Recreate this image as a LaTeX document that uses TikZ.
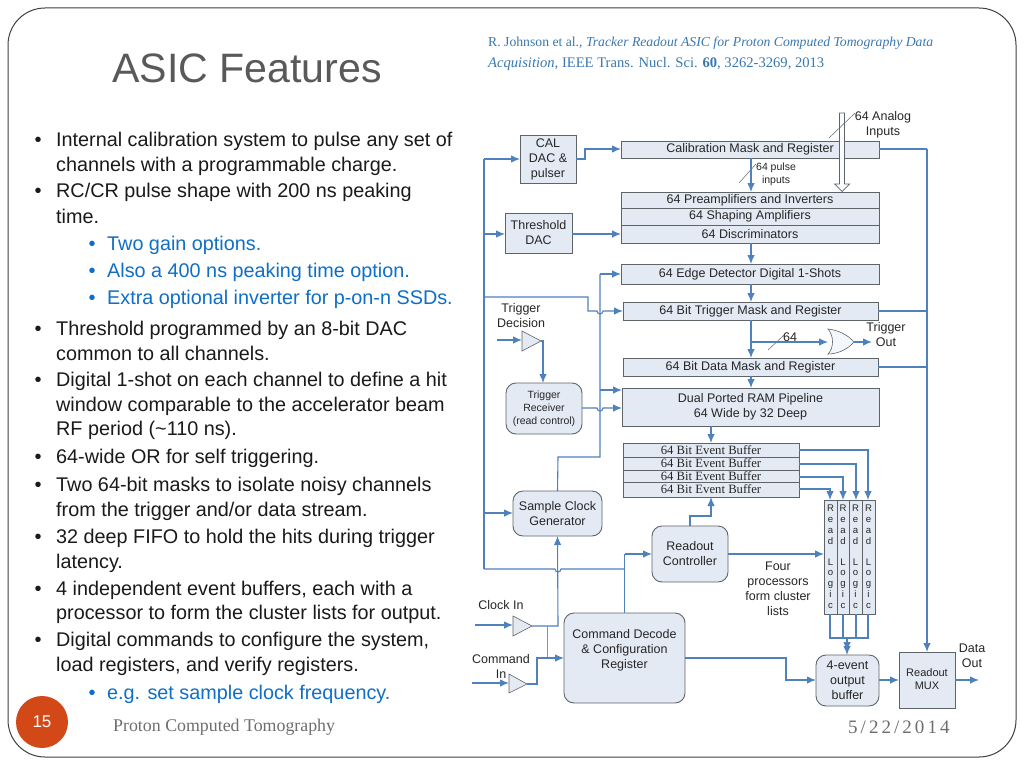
\documentclass[tikz,border=0pt]{standalone}
\usepackage{fontspec}
\setmainfont{Liberation Sans}
\newfontfamily\serifx{Liberation Serif}
\newfontfamily\serifsp[LetterSpace=16]{Liberation Serif}
\usetikzlibrary{arrows.meta}
\definecolor{wire}{HTML}{4F81BD}
\definecolor{boxfill}{HTML}{E4EAF4}
\definecolor{boxline}{HTML}{5F6468}
\definecolor{bodytxt}{HTML}{1A1A1A}
\definecolor{subtxt}{HTML}{0F6FC6}
\definecolor{citetxt}{HTML}{3A78B0}
\definecolor{foot}{HTML}{6E6E6E}
\definecolor{labeltxt}{HTML}{262626}
\definecolor{numfill}{HTML}{D34817}
\tikzset{
 x=1pt,y=-1pt,
 rb/.style={draw=boxline,fill=boxfill,line width=0.9pt,inner sep=0pt,outer sep=0pt,rectangle},
 rr/.style={rb,rounded corners=10pt},
 wire/.style={draw=wire,line width=1.1pt},
 arr/.style={wire,-{Latex[length=9pt,width=7.5pt]}},
 lab/.style={text=labeltxt,font=\fontsize{12.5}{15}\selectfont,align=center,inner sep=0pt},
 small/.style={text=labeltxt,font=\fontsize{10.5}{13}\selectfont,align=center,inner sep=0pt},
 slash/.style={draw=boxline,line width=0.5pt},
 body/.style={anchor=base west,inner sep=0pt,yshift=-1pt,text=bodytxt,font=\fontsize{19.8}{22}\selectfont},
 sub/.style={anchor=base west,inner sep=0pt,yshift=-1pt,text=subtxt,font=\fontsize{19.8}{22}\selectfont},
 bul/.style={anchor=base,inner sep=0pt,yshift=-1pt,text=bodytxt,font=\fontsize{20}{22}\selectfont},
 subbul/.style={anchor=base,inner sep=0pt,yshift=-1pt,text=subtxt,font=\fontsize{20}{22}\selectfont},
}
\newcommand{\bx}[6][rb]{\node[#1,minimum width=#4-#3,minimum height=#6-#5] (#2) at ({(#3+#4)/2},{(#5+#6)/2}) {};}
\begin{document}
\begin{tikzpicture}
\useasboundingbox (0,0) rectangle (1024,768);
\fill[white] (0,0) rectangle (1024,768);
\node[draw=black!75,line width=1pt,rounded corners=37pt,minimum width=1008pt,minimum height=749pt,inner sep=0pt] (frame) at (512,382.5) {};
% title
\node[anchor=base west,inner sep=0pt,text=black!65,font=\fontsize{41.1}{46}\selectfont] (title) at (112,82) {ASIC Features};
\node[anchor=base west,inner sep=0pt,text=citetxt,font=\serifx\fontsize{13.7}{15}\selectfont] (cite1) at (488,47) {R. Johnson et al., \textit{Tracker Readout ASIC for Proton Computed Tomography Data}};
\node[anchor=base west,inner sep=0pt,text=citetxt,font=\serifx\fontsize{14.6}{15}\selectfont] (cite2) at (488,67) {\textit{Acquisition}, IEEE Trans. Nucl. Sci. \textbf{60}, 3262-3269, 2013};
% body text
\foreach \n/\y/\t in {a1/145/{Internal calibration system to pulse any set of},a2/170/{channels with a programmable charge.},a3/196/{RC/CR pulse shape with 200 ns peaking},a4/222/{time.},a8/334/{Threshold programmed by an 8-bit DAC},a9/359/{common to all channels.},a10/385/{Digital 1-shot on each channel to define a hit},a11/410/{window comparable to the accelerator beam},a12/434/{RF period (\textasciitilde110 ns).},a13/462/{64-wide OR for self triggering.},a14/490/{Two 64-bit masks to isolate noisy channels},a15/515/{from the trigger and/or data stream.},a16/542/{32 deep FIFO to hold the hits during trigger},a17/567/{latency.},a18/594/{4 independent event buffers, each with a},a19/618/{processor to form the cluster lists for output.},a20/645/{Digital commands to configure the system,},a21/670/{load registers, and verify registers.}}
  \node[body] (\n) at (56,\y) {\t};
\foreach \n/\y in {b1/145,b3/196,b8/334,b10/385,b13/462,b14/490,b16/542,b18/594,b20/645}
  \node[bul] (\n) at (38,\y) {•};
\foreach \n/\y/\t in {c1/249/{Two gain options.},c2/276/{Also a 400 ns peaking time option.},c3/303/{Extra optional inverter for p-on-n SSDs.},c4/698/{e.g. set sample clock frequency.}}
  \node[sub] (\n) at (107,\y) {\t};
\foreach \n/\y in {d1/249,d2/276,d3/303,d4/698}
  \node[subbul] (\n) at (92,\y) {•};
% footer
\node[circle,fill=numfill,minimum size=52pt,inner sep=0pt,text=white,font=\fontsize{17}{20}\selectfont] (num) at (42,722) {15};
\node[anchor=base west,inner sep=0pt,text=foot,font=\serifx\fontsize{17.85}{18}\selectfont] (foot1) at (113,731) {Proton Computed Tomography};
\node[anchor=base west,inner sep=0pt,text=foot,font=\serifsp\fontsize{19}{20}\selectfont] (foot2) at (848,733) {5/22/2014};
% boxes
\bx{cal}{520}{576}{135}{183}
\node[lab] (calt) at (cal) {CAL\\DAC \&\\pulser};
\bx{mask}{621}{879}{141}{158}
\node[lab] (maskt) at (mask) {Calibration Mask and Register};
\bx{pre}{621}{879}{192}{208}
\node[lab] (pret) at (pre) {64 Preamplifiers and Inverters};
\bx{shp}{621}{879}{208}{225}
\node[lab] (shpt) at (shp) {64 Shaping Amplifiers};
\bx{dis}{621}{879}{225}{243}
\node[lab] (dist) at (dis) {64 Discriminators};
\bx{thr}{505}{572}{213}{253}
\node[lab] (thrt) at (thr) {Threshold\\DAC};
\bx{edge}{621}{879}{264}{284}
\node[lab] (edget) at (edge) {64 Edge Detector Digital 1-Shots};
\bx{trg}{623}{878}{302}{320}
\node[lab] (trgt) at (trg) {64 Bit Trigger Mask and Register};
\bx{dat}{623}{878}{358}{376}
\node[lab] (datt) at (dat) {64 Bit Data Mask and Register};
\bx{ram}{622}{879}{388}{426}
\node[lab] (ramt) at (ram) {Dual Ported RAM Pipeline\\64 Wide by 32 Deep};
\foreach \n/\ya/\yb in {e1/443/457,e2/457/470,e3/470/482,e4/482/497}{
  \bx{\n}{623}{799}{\ya}{\yb}
  \node[text=labeltxt,inner sep=0pt,font=\serifx\fontsize{12.7}{14}\selectfont] (\n t) at (\n) {64 Bit Event Buffer};
}
\bx[rr]{rcv}{506}{582}{383}{434}
\node[small] (rcvt) at (rcv) {Trigger\\Receiver\\(read control)};
\bx[rr]{clk}{513}{602}{491}{536}
\node[lab] (clkt) at (clk) {Sample Clock\\Generator};
\bx[rr]{roc}{652}{728}{526}{582}
\node[lab] (roct) at (roc) {Readout\\Controller};
\bx[rr]{cmd}{564}{685}{613}{703}
\node[lab] (cmdt) at (624.5,650) {Command Decode\\\& Configuration\\Register};
\bx[rr]{out}{816}{879}{655}{706}
\node[lab] (outt) at (out) {4-event\\output\\buffer};
\bx{mux}{899}{955}{652}{708}
\node[text=labeltxt,align=center,inner sep=0pt,font=\fontsize{11}{13}\selectfont] (muxt) at (927,679) {Readout\\MUX};
\foreach \n/\xa/\xb in {r1/824/837,r2/837/849,r3/849/862,r4/862/875}{
  \bx{\n}{\xa}{\xb}{500}{614}
  \node[inner sep=0pt,text=labeltxt,align=center,font=\fontsize{9.6}{10.9}\selectfont] (\n t) at (\n) {R\\e\\a\\d\\[9.5pt]L\\o\\g\\i\\c};
}
% named points
\coordinate (tipdec) at (541,341);
\coordinate (tipclk) at (532,626);
\coordinate (tipcmd) at (527,684);
\coordinate (orin) at (828,342);
\coordinate (orout) at (854,342);
% triangles
\draw[draw=boxline,fill=boxfill,line width=0.6pt] (522,331) -- (tipdec) -- (522,351) -- cycle;
\draw[draw=boxline,fill=boxfill,line width=0.6pt] (513,616) -- (tipclk) -- (513,636) -- cycle;
\draw[draw=boxline,fill=boxfill,line width=0.6pt] (509,674) -- (tipcmd) -- (509,693) -- cycle;
\draw[draw=boxline,fill=boxfill!40,line width=0.6pt] (828,329) .. controls (834,336) and (834,348) .. (828,354) .. controls (838,354) and (848,349) .. (orout) .. controls (848,335) and (838,330) .. cycle;
% analog input hollow arrow
\coordinate (ana) at (842,113);
\draw[draw=boxline,fill=white!90!boxfill,line width=0.7pt] (839.5,113) -- (844.5,113) -- (844.5,184) -- (849.5,184) -- (842,191.5) -- (834.5,184) -- (839.5,184) -- cycle;
\draw[slash] (829,138) -- (855,113);
\draw[slash] (739,183) -- (756,164);
\draw[slash] (768,350) -- (784,335);
% labels
\node[lab] (lana) at (883,124.5) {64 Analog\\Inputs};
\node[small] (lpul) at (776,174.5) {64 pulse\\inputs};
\node[lab] (ldec) at (521,316) {Trigger\\Decision};
\node[lab] (l64) at (790,337) {64};
\node[lab] (ltro) at (886,334.5) {Trigger\\Out};
\node[lab] (lclk) at (501,605) {Clock In};
\node[lab] (lcmd) at (501,666.5) {Command\\In};
\node[lab] (lfour) at (778,589) {Four\\processors\\form cluster\\lists};
\node[lab] (ldata) at (972,655.5) {Data\\Out};
% connectors
\draw[arr] (cal.east |- 0,159) -- (585,159) -- (585,149) -- (mask.west |- 0,149);
\draw[arr] (751,158) -- (751,192);
\draw[arr] (thr.east |- 0,234) -- (dis.west |- 0,234);
\draw[arr] (751,243) -- (751,264);
\draw[arr] (751,284) -- (751,302);
\draw[arr] (751,320) -- (751,358);
\draw[arr] (751,342) -- (orin);
\draw[arr] (orout) -- (872,342);
\draw[arr] (751,376) -- (751,388);
\draw[arr] (711,426) -- (711,443);
% left bus
\draw[wire] (484,569) -- (484,159);
\draw[arr] (484,159) -- (cal.west |- 0,159);
\draw[arr] (484,234) -- (thr.west |- 0,234);
\draw[arr] (484,513) -- (clk.west |- 0,513);
\draw[arr] (484,297) -- (588,297) -- (588,311) -- (597,311) arc (180:0:3) -- (trg.west |- 0,311);
\draw[wire] (484,569) -- (555,569) arc (180:0:3) -- (624.5,569);
\draw[wire] (624.5,613) -- (624.5,554);
\draw[arr] (624.5,554) -- (roc.west |- 0,554);
% middle clock bus
\draw[wire] (clk.north) -- (558,457) -- (600,457) -- (600,274);
\draw[arr] (600,274) -- (edge.west |- 0,274);
\draw[arr] (600,390) -- (ram.west |- 0,390);
\draw[arr] (rcv.east |- 0,408) -- (597,408) arc (180:0:3) -- (ram.west |- 0,408);
% trigger decision
\draw[arr] (497,340) -- (522,340);
\draw[arr] (tipdec) -- (543,341) -- (543,383);
% clock in
\draw[arr] (475,625) -- (513,625);
\draw[arr] (tipclk) -- (558,626) -- (clk.south);
\draw[draw=boxline!70,line width=1pt] (547,626) -- (547,658);
% command in
\draw[arr] (472,683) -- (509,683);
\draw[arr] (tipcmd) -- (537,684) -- (537,658) -- (cmd.west |- 0,658);
% readout controller
\draw[arr] (690,526) -- (690,516) -- (711,516) -- (e4.south -| 711,0);
\draw[arr] (roc.east |- 0,554) -- (r1.west |- 0,554);
% event buffers to read logic
\draw[arr] (e1.east |- 0,450) -- (868,450) -- (868,500);
\draw[arr] (e2.east |- 0,464) -- (856,464) -- (856,500);
\draw[arr] (e3.east |- 0,477) -- (843,477) -- (843,500);
\draw[arr] (e4.east |- 0,489) -- (830,489) -- (830,500);
% read logic to buffer
\draw[wire] (830,614) -- (830,638) -- (868,638) -- (868,614);
\draw[wire] (843,614) -- (843,638);
\draw[wire] (856,614) -- (856,638);
\draw[arr] (847,638) -- (847,655);
\draw[arr] (847,638) -- (847,651);
% command -> out -> mux
\draw[arr] (cmd.east |- 0,658) -- (786,658) -- (786,680) -- (out.west |- 0,680);
\draw[arr] (out.east |- 0,680) -- (mux.west |- 0,680);
\draw[arr] (mux.east |- 0,680) -- (979,680);
% right bus
\draw[wire] (mask.east |- 0,149) -- (927,149);
\draw[wire] (trg.east |- 0,311) -- (927,311);
\draw[wire] (dat.east |- 0,367) -- (927,367);
\draw[arr] (927,149) -- (mux.north -| 927,0);
\end{tikzpicture}
\end{document}
